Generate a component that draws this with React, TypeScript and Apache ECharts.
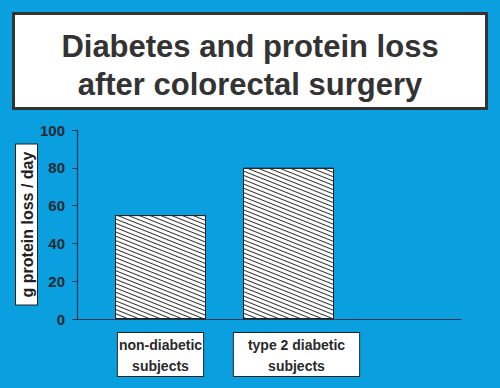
import React, { useEffect, useRef } from "react";
import * as echarts from "echarts";

const categories = ["non-diabetic\nsubjects", "type 2 diabetic\nsubjects"];
const proteinLoss = [55, 80];
const yTicks = { min: 0, max: 100, interval: 20 };
const titleText = "Diabetes and protein loss\nafter colorectal surgery";
const yAxisName = "g protein loss / day";

const BG = "#0a9fdf";
const DARK = "#2a2a2a";
const FONT = "Liberation Sans";

export default function App() {
  const ref = useRef<HTMLDivElement>(null);
  useEffect(() => {
    if (!ref.current) return;
    const chart = echarts.init(ref.current, undefined, { renderer: "svg" });
    const labelStyles = [
      { padding: [1, 1, 0, 1], offset: [0, 0] },
      { padding: [1, 14, 0, 14], offset: [8, 0] },
    ];
    chart.setOption({
      animation: false,
      backgroundColor: BG,
      aria: { enabled: true, decal: { show: true } },
      title: {
        text: titleText,
        left: "center",
        top: 22,
        textStyle: {
          fontFamily: FONT,
          fontSize: 31,
          fontWeight: "bold",
          lineHeight: 38,
          color: "#333",
        },
      },
      graphic: [
        {
          type: "rect",
          z: -1,
          shape: { x: 13.5, y: 13.5, width: 473, height: 95 },
          style: { fill: "#fff", stroke: "#333", lineWidth: 3 },
          silent: true,
        },
      ],
      grid: { left: 77, right: 39, top: 130, bottom: 69 },
      xAxis: {
        type: "category",
        data: [...categories, ""],
        axisLine: { show: true, lineStyle: { color: "#1d3550", width: 1.2 } },
        axisTick: { show: false },
        axisLabel: { show: false },
      },
      yAxis: {
        type: "value",
        min: yTicks.min,
        max: yTicks.max,
        interval: yTicks.interval,
        splitLine: { show: false },
        axisLine: { show: true, lineStyle: { color: "#1d3550", width: 1.2 } },
        axisTick: { show: true, length: 5, lineStyle: { color: "#1d3550" } },
        axisLabel: {
          margin: 12,
          fontFamily: FONT,
          fontSize: 15,
          fontWeight: "bold",
          color: "#242a33",
        },
        name: yAxisName,
        nameLocation: "middle",
        nameRotate: 90,
        nameGap: 40,
        nameMoveOverlap: false,
        nameTextStyle: {
          fontFamily: FONT,
          fontSize: 16,
          fontWeight: "bold",
          color: "#222",
          backgroundColor: "#fff",
          borderColor: "#222",
          borderWidth: 1,
          padding: [2, 7, 1, 7],
          lineHeight: 18,
        },
      },
      series: [
        {
          name: "spacer",
          type: "bar",
          data: categories.map(() => "-"),
          barWidth: 39,
          barGap: "0%",
          itemStyle: { color: "transparent" },
          silent: true,
        },
        {
          name: "protein loss",
          type: "bar",
          barWidth: 91,
          barGap: "0%",
          data: proteinLoss.map((v, i) => ({
            value: v,
            label: labelStyles[i],
          })),
          itemStyle: {
            color: "#fff",
            borderColor: "#222",
            borderWidth: 1,
            decal: {
              symbol: "rect",
              symbolSize: 1,
              color: "#333",
              backgroundColor: "#fff",
              dashArrayX: [1, 0],
              dashArrayY: [1, 2.6],
              rotation: 0.38,
            },
          },
          label: {
            show: true,
            position: "bottom",
            distance: 14,
            formatter: (p: any) => categories[p.dataIndex],
            fontFamily: FONT,
            fontSize: 14,
            fontWeight: "bold",
            lineHeight: 21,
            color: DARK,
            backgroundColor: "#fff",
            borderColor: "#222",
            borderWidth: 1,
          },
        },
      ],
    });
    return () => chart.dispose();
  }, []);
  return (
    <div
      ref={ref}
      style={{ position: "fixed", left: 0, top: 0, width: 500, height: 388 }}
    />
  );
}
